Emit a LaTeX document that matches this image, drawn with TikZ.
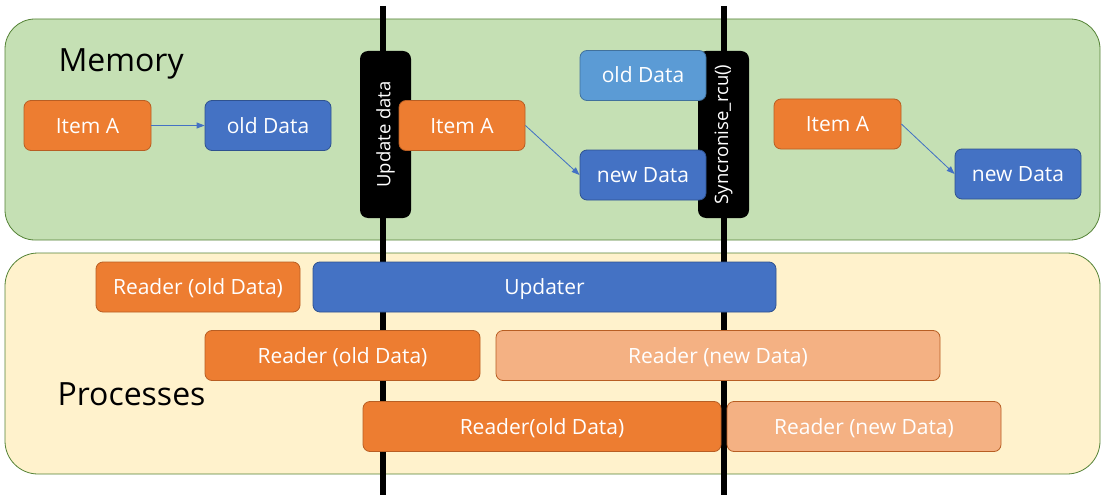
\documentclass[tikz,border=0pt]{standalone}
\usepackage{fontspec}
\setmainfont{Open Sans}
\usetikzlibrary{arrows.meta,positioning}

\definecolor{memfill}{HTML}{C5E0B4}
\definecolor{procfill}{HTML}{FFF2CC}
\definecolor{areaedge}{HTML}{548235}
\definecolor{itemorange}{HTML}{ED7D31}
\definecolor{lightorange}{HTML}{F4B183}
\definecolor{orangeedge}{HTML}{B85E23}
\definecolor{datablue}{HTML}{4472C4}
\definecolor{blueedge}{HTML}{2F528F}
\definecolor{oldblue}{HTML}{5B9BD5}
\definecolor{oldblueedge}{HTML}{41719C}

\begin{document}
\begin{tikzpicture}[x=1pt, y=-1pt,
    box/.style={rectangle, draw, line width=0.8pt, rounded corners=7pt, text=white, inner sep=0pt,
        font=\fontsize{21}{25}\selectfont, text height=16pt, text depth=1pt, minimum height=50pt},
    itembox/.style={box, fill=itemorange, draw=orangeedge},
    newreader/.style={box, fill=lightorange, draw=orangeedge},
    databox/.style={box, fill=datablue, draw=blueedge},
    olddatabox/.style={box, fill=oldblue, draw=oldblueedge},
    gatebox/.style={rectangle, fill=black, rounded corners=8pt, text=white, inner sep=0pt,
        font=\fontsize{18.5}{22}\selectfont, minimum width=167pt, minimum height=51pt, rotate=90},
    title/.style={anchor=base west, font=\fontsize{32}{38}\selectfont},
    ptr/.style={-{Triangle[length=8pt,width=6pt]}, draw=datablue, fill=datablue, line width=0.8pt}]
    \useasboundingbox (0,0) rectangle (1110,500);

    % areas
    \filldraw[fill=memfill, draw=areaedge, line width=0.8pt, rounded corners=30pt] (5,19) rectangle (1100,240);
    \filldraw[fill=procfill, draw=areaedge, line width=0.8pt, rounded corners=33pt] (5,253) rectangle (1100,474);
    \node (memlabel) [title] at (55,72) {Memory};
    \node (proclabel) [title] at (54,405) {Processes};

    % time lines
    \coordinate (updtop) at (383,6);
    \coordinate (updbot) at (383,495);
    \coordinate (synctop) at (724,6);
    \coordinate (syncbot) at (724,495);
    \draw[line width=5.5pt] (updtop) -- (updbot);
    \draw[line width=5.5pt] (synctop) -- (syncbot);

    \node (update) [gatebox] at (385.5,134.5) {Update data};
    \node (sync) [gatebox] at (723.5,134.5) {Syncronise\_rcu()};

    % memory before update
    \node (itemA) [itembox, minimum width=127pt] at (87.5,125.5) {Item A};
    \node (oldA) [databox, minimum width=126pt] at (268,125.5) {old Data};
    \draw[ptr] (itemA) -- (oldA);

    % memory after update
    \node (itemB) [itembox, minimum width=126pt] at (462,125.5) {Item A};
    \node (oldB) [olddatabox, minimum width=126pt] at (643,75.5) {old Data};
    \node (newB) [databox, minimum width=126pt] at (643,175) {new Data};
    \draw[ptr] (itemB.east) -- (newB.west);

    % memory after sync
    \node (itemC) [itembox, minimum width=127pt] at (837.5,124) {Item A};
    \node (newC) [databox, minimum width=126pt] at (1018,174) {new Data};
    \draw[ptr] (itemC.east) -- (newC.west);

    % processes
    \node (readerA) [itembox, minimum width=204pt] at (198,287) {Reader (old Data)};
    \node (updater) [databox, minimum width=463pt] at (544.5,287) {Updater};
    \node (readerB) [itembox, minimum width=275pt] at (342.5,355.5) {Reader (old Data)};
    \node (readerC) [newreader, minimum width=444pt] at (718,355.5) {Reader (new Data)};
    \node (readerD) [itembox, minimum width=358pt] at (542,426.5) {Reader(old Data)};
    \node (readerE) [newreader, minimum width=274pt] at (864,426.5) {Reader (new Data)};
\end{tikzpicture}
\end{document}
